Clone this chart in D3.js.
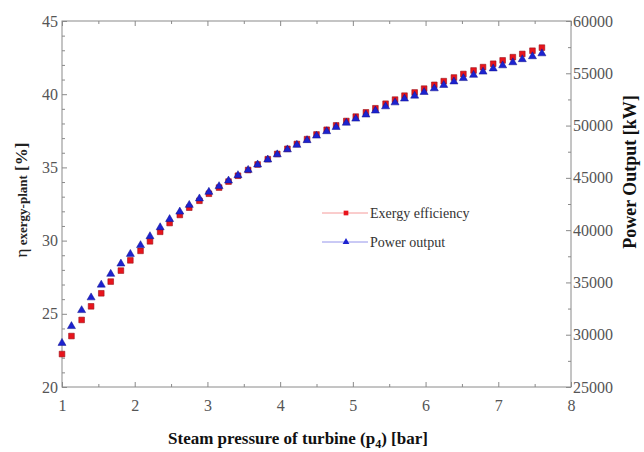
<!DOCTYPE html>
<html>
<head>
<meta charset="utf-8">
<script src="https://cdn.jsdelivr.net/npm/d3@7"></script>
<style>
  body { margin: 0; background: #fff; }
  text { font-family: "Liberation Serif", "DejaVu Serif", serif; }
</style>
</head>
<body>
<script>
// steam pressure of turbine p4 [bar]
const pressure = [1.00, 1.13, 1.27, 1.40, 1.54, 1.67, 1.81, 1.94, 2.08, 2.21,
  2.35, 2.48, 2.62, 2.75, 2.89, 3.02, 3.16, 3.29, 3.42, 3.56,
  3.69, 3.83, 3.96, 4.10, 4.23, 4.37, 4.50, 4.64, 4.77, 4.91,
  5.04, 5.18, 5.31, 5.45, 5.58, 5.71, 5.85, 5.98, 6.12, 6.25,
  6.39, 6.52, 6.66, 6.79, 6.93, 7.06, 7.20, 7.33, 7.47, 7.60];

// exergy efficiency [%]
const exergyEff = [22.25, 23.48, 24.58, 25.51, 26.40, 27.20, 27.95, 28.65, 29.30, 29.95,
  30.60, 31.20, 31.75, 32.25, 32.72, 33.20, 33.62, 34.03, 34.43, 34.82,
  35.20, 35.56, 35.92, 36.27, 36.60, 36.93, 37.25, 37.57, 37.87, 38.17,
  38.47, 38.76, 39.04, 39.35, 39.63, 39.90, 40.12, 40.38, 40.64, 40.89,
  41.14, 41.38, 41.62, 41.85, 42.08, 42.31, 42.53, 42.75, 42.97, 43.18];

// power output [kW]
const powerOut = [29200, 30810, 32336, 33554, 34772, 35808, 36788, 37712, 38552, 39406,
  40260, 41044, 41758, 42402, 43018, 43648, 44194, 44726, 45244, 45748,
  46266, 46742, 47232, 47708, 48142, 48590, 49024, 49444, 49850, 50256,
  50648, 51040, 51418, 51824, 52202, 52566, 52846, 53196, 53546, 53868,
  54204, 54526, 54834, 55142, 55450, 55744, 56038, 56332, 56612, 56892];

const xTicks = [1, 2, 3, 4, 5, 6, 7, 8];
const yLeftTicks = [20, 25, 30, 35, 40, 45];
const yRightTicks = [25000, 30000, 35000, 40000, 45000, 50000, 55000, 60000];
const legendLabels = ["Exergy efficiency", "Power output"];

const W = 644, H = 452;
const L = 62, R = 571, T = 21, B = 387;

const svg = d3.select("body").append("svg")
  .attr("width", W).attr("height", H);

const x = d3.scaleLinear().domain([1, 8]).range([L, R]);
const yL = d3.scaleLinear().domain([20, 45]).range([B, T]);
const yR = d3.scaleLinear().domain([25000, 60000]).range([B, T]);

const axisColor = "#8a8a8a";
const labelColor = "#555";

// minor ticks
const xMinor = d3.range(1.5, 8, 1);
const yLMinor = d3.range(20, 45.01, 1).filter(v => v % 5 !== 0);
const yRMinor = d3.range(27500, 60000, 5000);

function styleAxis(g) {
  g.select(".domain").remove();
  g.selectAll(".tick line").attr("stroke", axisColor);
  g.selectAll(".tick text").attr("fill", labelColor)
    .style("font-size", "16px")
    .style("font-family", '"Liberation Serif", serif');
}

// bottom
svg.append("g").attr("transform", `translate(0,${B})`)
  .call(d3.axisBottom(x).tickValues(xTicks).tickSize(-5).tickPadding(13).tickFormat(d3.format("d")))
  .call(styleAxis);
svg.append("g").attr("transform", `translate(0,${B})`)
  .call(d3.axisBottom(x).tickValues(xMinor).tickSize(-3).tickFormat(""))
  .call(styleAxis);
// top
svg.append("g").attr("transform", `translate(0,${T})`)
  .call(d3.axisTop(x).tickValues(xTicks).tickSize(-5).tickFormat(""))
  .call(styleAxis);
svg.append("g").attr("transform", `translate(0,${T})`)
  .call(d3.axisTop(x).tickValues(xMinor).tickSize(-3).tickFormat(""))
  .call(styleAxis);
// left
svg.append("g").attr("transform", `translate(${L},0)`)
  .call(d3.axisLeft(yL).tickValues(yLeftTicks).tickSize(-5).tickPadding(4))
  .call(styleAxis);
svg.append("g").attr("transform", `translate(${L},0)`)
  .call(d3.axisLeft(yL).tickValues(yLMinor).tickSize(-3).tickFormat(""))
  .call(styleAxis);
// right
svg.append("g").attr("transform", `translate(${R},0)`)
  .call(d3.axisRight(yR).tickValues(yRightTicks).tickSize(-5).tickPadding(2).tickFormat(d3.format("d")))
  .call(styleAxis);
svg.append("g").attr("transform", `translate(${R},0)`)
  .call(d3.axisRight(yR).tickValues(yRMinor).tickSize(-3).tickFormat(""))
  .call(styleAxis);

// frame
svg.append("rect")
  .attr("x", L).attr("y", T).attr("width", R - L).attr("height", B - T)
  .attr("fill", "none").attr("stroke", axisColor).attr("stroke-width", 1);

// markers
const red = "#e8141c", blue = "#1c22d0";
const sq = d3.symbol().type(d3.symbolSquare).size(32);
const tri = d3.symbol().type(d3.symbolTriangle).size(28);

svg.append("g").selectAll("path")
  .data(pressure.map((p, i) => [p, exergyEff[i]]))
  .join("path")
  .attr("d", sq)
  .attr("transform", d => `translate(${x(d[0])},${yL(d[1])})`)
  .attr("fill", red).attr("stroke", "#9a1018").attr("stroke-width", 0.6);

svg.append("g").selectAll("path")
  .data(pressure.map((p, i) => [p, powerOut[i]]))
  .join("path")
  .attr("d", tri)
  .attr("transform", d => `translate(${x(d[0])},${yR(d[1])})`)
  .attr("fill", blue).attr("stroke", "#10138a").attr("stroke-width", 0.5);

// legend
const leg = svg.append("g").attr("transform", "translate(322,213)");
legendLabels.forEach((lab, i) => {
  const g = leg.append("g").attr("transform", `translate(0,${i * 29})`);
  g.append("line").attr("x1", 0).attr("x2", 46).attr("y1", 0).attr("y2", 0)
    .attr("stroke", i === 0 ? "#f28080" : "#7a7ae6").attr("stroke-width", 0.8);
  g.append("path").attr("d", i === 0 ? d3.symbol().type(d3.symbolSquare).size(22) : d3.symbol().type(d3.symbolTriangle).size(20))
    .attr("transform", "translate(24,0)")
    .attr("fill", i === 0 ? red : blue);
  g.append("text").attr("x", 48).attr("y", 5)
    .attr("fill", "#333").style("font-size", "14px").text(lab);
});

// x title
const xt = svg.append("text")
  .attr("x", 298).attr("y", 444).attr("text-anchor", "middle")
  .attr("fill", "#111").style("font-size", "17px").style("font-weight", "bold");
xt.append("tspan").text("Steam pressure of turbine (p");
xt.append("tspan").attr("dy", 4).style("font-size", "12px").text("4");
xt.append("tspan").attr("dy", -4).text(") [bar]");

// left title
const ylt = svg.append("text")
  .attr("transform", "translate(27,200) rotate(-90)")
  .attr("text-anchor", "middle").attr("fill", "#222");
ylt.append("tspan").style("font-size", "17px").text("η");
ylt.append("tspan").style("font-size", "13px").style("font-weight", "bold").text(" exergy-plant");
ylt.append("tspan").style("font-size", "17px").style("font-weight", "bold").text("  [%]");

// right title
svg.append("text")
  .attr("transform", "translate(636,172) rotate(-90)")
  .attr("text-anchor", "middle").attr("fill", "#111")
  .style("font-size", "18px").style("font-weight", "bold")
  .text("Power Output [kW]");
</script>
</body>
</html>
